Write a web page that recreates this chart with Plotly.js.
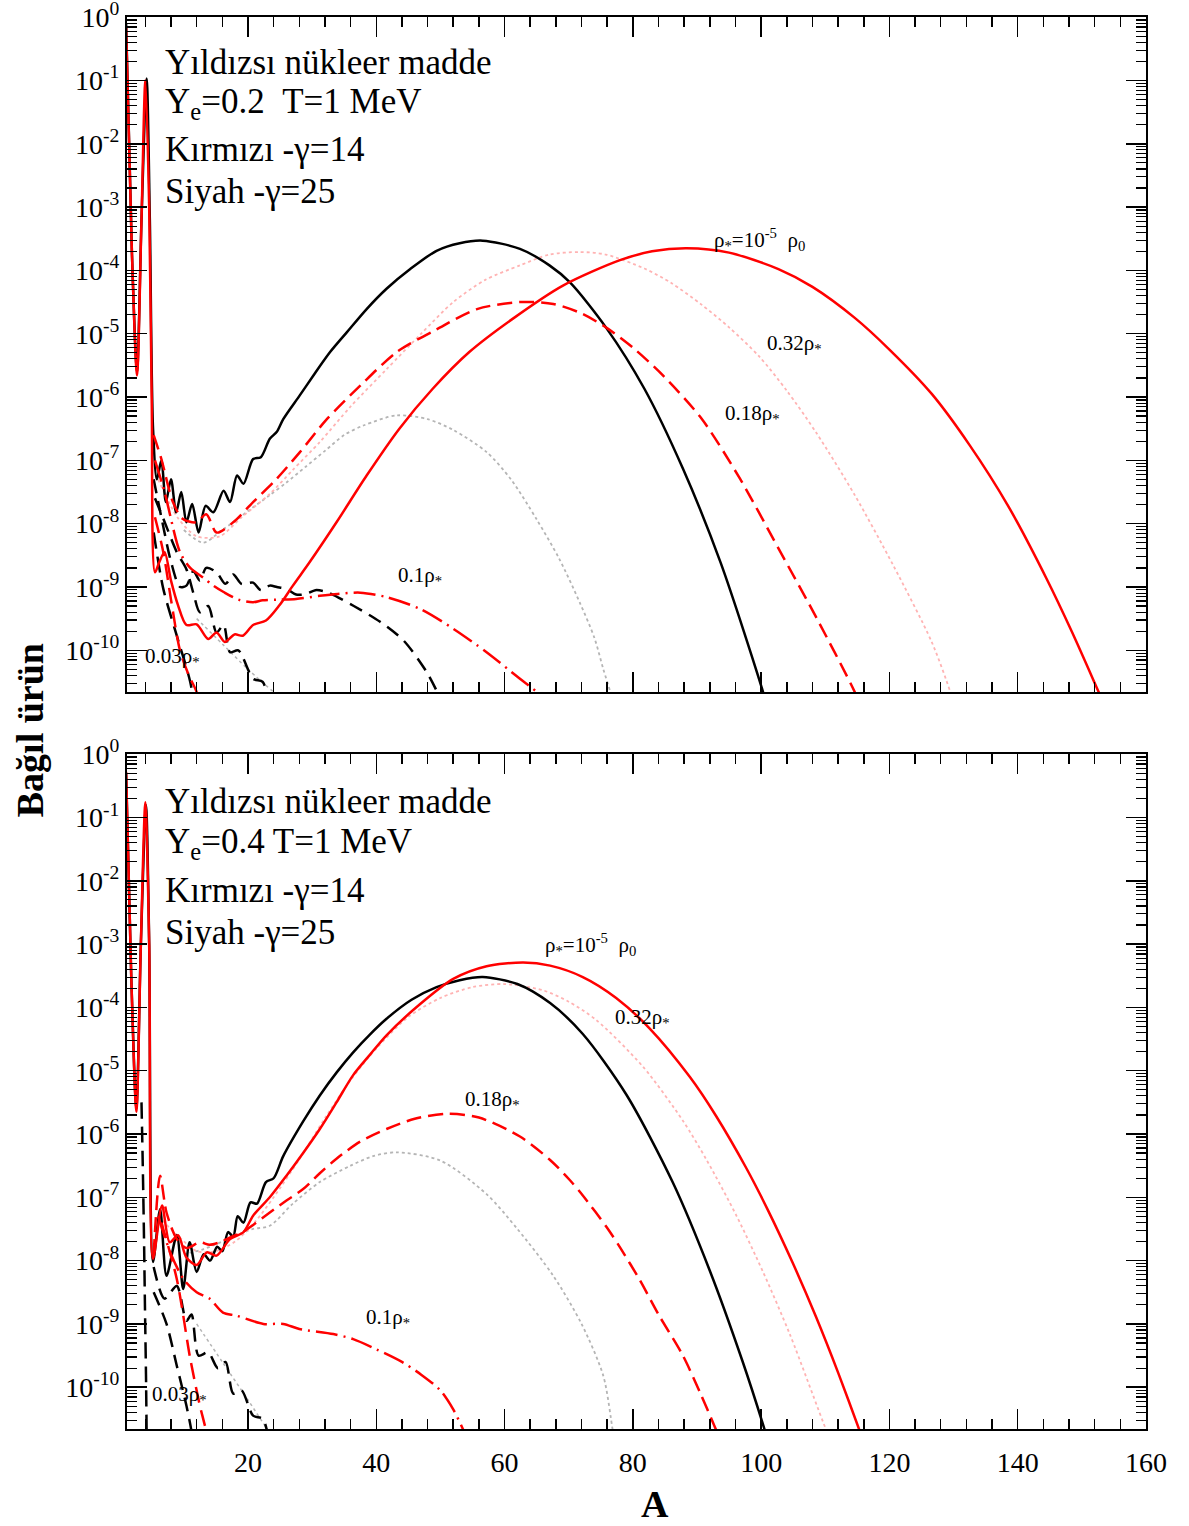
<!DOCTYPE html>
<html>
<head>
<meta charset="utf-8">
<script src="https://cdn.plot.ly/plotly-3.0.1.min.js"></script>
<style>html,body{margin:0;padding:0;background:#fff;}#chart{width:1189px;height:1526px;}</style>
</head>
<body>
<div id="chart"></div>
<script>
// ---------- DATA (A = mass number, Y = relative yield) ----------
// Top panel: Ye = 0.2, T = 1 MeV
// red = gamma 14, black = gamma 25
const top_Rsolid_A = [1,1.9,2.7,3.4,4.0,4.6,5.0,5.5,6.2,7.0,8.0,9.1,10.4,12.0,13.8,15.1,16.4,17.9,19.2,20.8,22.8,24.9,27,29.6,33.8,38.5,43.6,48.8,54.5,61.2,69.1,78,83,88.4,95,102.7,108,114.6,120,126.6,132.5,138.5,144.5,148.5,152.8,155];
const top_Rsolid_Y = [0.69,2.0e-4,2.19e-6,6.31e-4,0.1,1e-3,7.94e-7,1.70e-9,2.51e-9,3.55e-9,1.26e-9,5.13e-10,2.51e-10,2.57e-10,1.51e-10,1.91e-10,1.35e-10,1.78e-10,1.70e-10,2.51e-10,2.95e-10,5.13e-10,1.05e-9,2.45e-9,1.05e-8,5.75e-8,3.16e-7,1.35e-6,5.13e-6,1.70e-5,5.75e-5,1.45e-4,2.0e-4,2.24e-4,1.91e-4,1.05e-4,5.5e-5,1.78e-5,5.62e-6,1.12e-6,1.74e-7,1.91e-8,1.35e-9,1.91e-10,2.0e-11,6.3e-12];

const top_Rdash_A = [5.3,6.5,8.3,9.8,11.9,13.5,15.1,17.7,20.8,24.4,28.1,32.3,37.5,43.2,49.4,55.7,62.4,67.6,72,75.8,80,84.8,90.7,96.7,102.7,108.7,114.6,116];
const top_Rdash_Y = [2.51e-7,1.05e-7,2.19e-8,1.2e-8,1.05e-8,1.41e-8,7.24e-9,1.05e-8,2.19e-8,5.01e-8,1.35e-7,4.47e-7,1.51e-6,5.13e-6,1.17e-5,2.45e-5,3.16e-5,2.95e-5,2.09e-5,1.26e-5,6.03e-6,2.14e-6,4.57e-7,5.13e-8,4.07e-9,3.16e-10,2.19e-11,1e-11];

const top_Rdot_A = [6,9,12,15.6,19,23.4,27,31.2,36,41.6,47,52,57,62.4,67,71.7,75.8,81.8,86,90.7,95,99.7,104,108.7,114.6,120.6,126.6,129.5,130.5];
const top_Rdot_Y = [5.01e-8,1.26e-8,6.31e-9,6.31e-9,1.26e-8,2.95e-8,7.08e-8,1.95e-7,7.08e-7,2.75e-6,1e-5,3.16e-5,7.08e-5,1.2e-4,1.78e-4,1.95e-4,1.78e-4,1.07e-4,6.31e-5,2.88e-5,1.26e-5,4.37e-6,1.26e-6,2.63e-7,2.82e-8,2.19e-9,1.35e-10,2.19e-11,1e-11];

const top_Rdd_A = [5.5,7,9.4,11,13,14.6,16.2,18.5,20.8,22.3,25,27.5,31.2,34,37.5,41.6,46.9,52,57.2,62.4,65,66];
const top_Rdd_Y = [1e-7,3.16e-8,3.55e-9,2.0e-9,1.41e-9,1.05e-9,8.32e-10,6.31e-10,5.75e-10,6.17e-10,6.31e-10,6.46e-10,7.24e-10,7.76e-10,8.13e-10,6.92e-10,4.47e-10,2.19e-10,9.33e-11,3.55e-11,2.19e-11,1.58e-11];

const top_R003_A = [5.5,6.8,8,9.4,10.8,12,12.5];
const top_R003_Y = [1.26e-8,3.55e-9,6.31e-10,1e-10,3.98e-11,2.19e-11,1.26e-11];

const top_Bsolid_A = [1,1.9,2.7,3.4,4.2,4.7,5.2,5.8,6.5,7.2,8,8.8,9.6,10.4,11.3,12.3,13.4,14.6,16.2,17.2,18.3,19.3,20.8,22,23.4,24.5,25.5,28.1,30.2,32.8,35.4,38.5,41.6,45.3,49.4,53,56.6,62.4,67,70.2,75.8,81.8,87.8,93.7,100.3,101.5];
const top_Bsolid_Y = [0.79,2.0e-4,2.51e-6,6.31e-4,0.107,6.31e-4,3.16e-7,5.01e-8,1e-7,2.19e-8,5.01e-8,1.51e-8,3.16e-8,1.05e-8,2.04e-8,7.24e-9,1.91e-8,1.51e-8,3.31e-8,2.19e-8,5.75e-8,4.27e-8,1.05e-7,1.12e-7,2.19e-7,2.82e-7,4.47e-7,1.07e-6,2.19e-6,5.13e-6,1.05e-5,2.45e-5,5.13e-5,1.05e-4,2.04e-4,2.69e-4,2.95e-4,2.19e-4,1.2e-4,6.46e-5,1.26e-5,1.35e-6,7.41e-8,2.4e-9,2.19e-11,7.94e-12];

const top_Bdot_A = [10,13,16,20,23.4,26,29,32,35,38,43.2,48,52,57.2,61,65,68.5,71.7,74,75.4,76.5,77.5];
const top_Bdot_Y = [7.94e-9,5.01e-9,7.94e-9,1.58e-8,2.82e-8,4.47e-8,7.94e-8,1.41e-7,2.51e-7,3.55e-7,5.13e-7,4.47e-7,3.02e-7,1.35e-7,5.01e-8,1.17e-8,2.82e-9,5.75e-10,1.58e-10,5.01e-11,2.19e-11,1e-11];

const top_Bdash1_A = [5.3,6.5,8,9.4,10.4,11.5,12.5,13.5,15.1,16.5,17.7,19,20.8,22,23.4,24.5,26,27.5,29.1,30.5,32.3,36.5,40.6,44.3,47.9,49.5,50.5];
const top_Bdash1_Y = [5.01e-8,1.26e-8,2.51e-9,1e-9,1.05e-9,1.78e-9,1.26e-9,2.0e-9,1.7e-9,1.12e-9,1.58e-9,1.12e-9,1.17e-9,8.91e-10,1.05e-9,1e-9,9.33e-10,7.59e-10,7.76e-10,8.91e-10,8.32e-10,5.01e-10,2.82e-10,1.41e-10,4.47e-11,2.19e-11,1.26e-11];

const top_Bdash2_A = [5.5,6.8,8.9,10.4,11.5,12.5,13.8,15.1,16.2,17.2,18.5,20.8,22.3,23.5];
const top_Bdash2_Y = [2.51e-8,1.2e-8,3.55e-9,1.91e-9,7.94e-10,3.98e-10,5.01e-10,1.91e-10,2.51e-10,9.33e-11,1e-10,3.55e-11,3.16e-11,1e-11];

const top_Bdash3_A = [5.3,6.8,8.9,11,11.8];
const top_Bdash3_Y = [7.24e-9,9.33e-10,1.7e-10,3.16e-11,1e-11];

const top_Bfaint_A = [12,16,20,24,26];
const top_Bfaint_Y = [3.16e-10,1.26e-10,5.01e-11,2.19e-11,1.5e-11];

// Bottom panel: Ye = 0.4, T = 1 MeV
const bot_Rsolid_A = [1,1.8,2.6,3.3,4.0,4.6,5.2,6.6,7.8,9.1,10.4,12,13.6,15.1,17.2,19.3,20.8,23.4,26,28.6,31.2,33.8,36.4,39,41.6,46.8,52,57.2,62.9,67.1,72.2,77.4,82.6,88.9,93,97.7,101,104.9,108.6,112,115.4,116.5];
const bot_Rsolid_Y = [0.525,3.16e-4,2.24e-6,1e-3,0.174,1e-3,1.07e-8,7.41e-8,1.95e-8,2.51e-8,1.12e-8,8.51e-9,1.35e-8,1.2e-8,2.19e-8,2.82e-8,5.13e-8,1e-7,2.19e-7,5.01e-7,1.2e-6,3.16e-6,8.51e-6,1.78e-5,3.63e-5,1.12e-4,2.82e-4,4.47e-4,5.13e-4,4.57e-4,3.02e-4,1.41e-4,4.68e-5,7.94e-6,1.91e-6,2.88e-7,6.46e-8,9.33e-9,1.26e-9,1.7e-10,2.0e-11,1e-11];

const bot_Rdash_A = [5.3,6.3,7.3,8.9,10.4,12.5,14,15.6,17.5,19.2,21,23.4,26,28.6,31.2,33.8,37.5,41.6,46,51,56,62.4,67.1,70.2,72.2,75.9,78,81.1,84,87.8,90.5,92.8,94];
const bot_Rdash_Y = [1.26e-8,2.19e-7,5.75e-8,2.19e-8,1.58e-8,1.95e-8,1.78e-8,1.95e-8,2.4e-8,2.82e-8,3.8e-8,5.75e-8,8.91e-8,1.35e-7,2.4e-7,4.07e-7,7.59e-7,1.2e-6,1.74e-6,2.09e-6,1.82e-6,9.12e-7,3.89e-7,1.86e-7,1.07e-7,3.39e-8,1.62e-8,4.9e-9,1.41e-9,3.16e-10,8.13e-11,2.34e-11,1.2e-11];

const bot_Rdot_A = [6,9,12,15,18,21,24,28,32,36,40,45,50,55,60,66,70,74.3,81.6,87.8,91.5,96.2,100.3,104.5,110.2,111.5];
const bot_Rdot_Y = [5.01e-8,2.51e-8,1.41e-8,1.41e-8,2.0e-8,3.98e-8,1e-7,3.98e-7,1.78e-6,7.08e-6,2.24e-5,7.08e-5,1.41e-4,2.09e-4,2.34e-4,1.86e-4,1.23e-4,6.31e-5,1.15e-5,1.62e-6,3.89e-7,5.01e-8,6.61e-9,6.76e-10,2.04e-11,1e-11];

const bot_Rdd_A = [6,8,10,12,14,16.1,18.2,22.4,25.5,28,33.3,36.4,40,44,47,50,52,53.5,55];
const bot_Rdd_Y = [5.01e-8,1.26e-8,5.01e-9,3.16e-9,2.51e-9,1.51e-9,1.35e-9,1e-9,1e-9,8.32e-10,6.92e-10,5.75e-10,3.98e-10,2.51e-10,1.58e-10,8.91e-11,4.47e-11,2.19e-11,1e-11];

const bot_R003_A = [6.5,8.9,11,12.5,13.5,14];
const bot_R003_Y = [3.98e-8,5.13e-9,2.82e-10,5.13e-11,2.0e-11,1e-11];

const bot_Bsolid_A = [1,1.8,2.6,3.3,4.1,4.6,5.2,6.3,7.3,8.9,9.9,10.9,12,13.1,14.1,15.2,16.0,16.9,17.7,18.4,19.3,20.4,21.4,22.8,24,25.5,28.6,31.2,33.8,36.4,39,41.6,45.5,49.4,53,56.6,62,67.1,72.2,79,86.2,92,97.1,100.3,101.5];
const bot_Bsolid_Y = [0.5,3.16e-4,2.51e-6,1e-3,0.158,1e-3,9.55e-9,6.46e-8,5.75e-9,2.51e-8,3.55e-9,1.95e-8,6.61e-9,1.26e-8,1e-8,1.66e-8,1.41e-8,2.82e-8,2.4e-8,5.01e-8,3.98e-8,8.32e-8,7.94e-8,1.74e-7,2.0e-7,4.47e-7,1.58e-6,4.07e-6,9.33e-6,1.95e-5,3.72e-5,6.61e-5,1.32e-4,2.09e-4,2.69e-4,3.02e-4,2.34e-4,1.17e-4,3.8e-5,4.17e-6,1.74e-7,6.92e-9,2.57e-10,2.57e-11,1e-11];

const bot_Bdot_A = [10,13,16,18.2,20.8,23.4,27,31.2,36,39.5,43.2,50,57.2,62,67.6,72,75.4,76.9,77.5];
const bot_Bdot_Y = [1.26e-8,1.51e-8,2.0e-8,2.51e-8,3.16e-8,3.55e-8,7.94e-8,1.74e-7,3.16e-7,4.47e-7,5.13e-7,3.8e-7,1.12e-7,3.16e-8,5.75e-9,1e-9,1.51e-10,2.0e-11,1e-11];

const bot_Bdash1_A = [5.3,7,8.9,10.4,11.2,12.3,13.8,15.3,16.5,17.7,19,20.8,22.3,23.5];
const bot_Bdash1_Y = [7.94e-9,2.51e-9,3.98e-9,1.12e-9,1.41e-9,3.16e-10,3.55e-10,2.0e-10,2.51e-10,7.94e-11,8.91e-11,3.55e-11,3.16e-11,1e-11];

const bot_Bdash2_A = [5.3,7.3,8.9,10.4,11.2,11.6];
const bot_Bdash2_Y = [3.16e-9,1e-9,2.19e-10,5.13e-11,2.0e-11,1e-11];

const bot_Bdash3_A = [3.4,3.6,3.8,3.95,4.1,4.2,4.25];
const bot_Bdash3_Y = [3.16e-6,3.16e-7,2.0e-8,1.58e-9,1.58e-10,2.0e-11,1e-11];

const bot_Bfaint_A = [12,16,20,23,25];
const bot_Bfaint_Y = [1e-9,2.51e-10,6.31e-11,2.19e-11,1.2e-11];

// tick labels
const xTickVals = [20,40,60,80,100,120,140,160];
const xTickText = ['20','40','60','80','100','120','140','160'];
const yTickVals = [1,1e-1,1e-2,1e-3,1e-4,1e-5,1e-6,1e-7,1e-8,1e-9,1e-10];
const yTickText = ['10<sup>0</sup>','10<sup>-1</sup>','10<sup>-2</sup>','10<sup>-3</sup>','10<sup>-4</sup>','10<sup>-5</sup>','10<sup>-6</sup>','10<sup>-7</sup>','10<sup>-8</sup>','10<sup>-9</sup>','10<sup>-10</sup>'];

// panel texts
const panelTitle = 'Yıldızsı nükleer madde';
const topCond = 'Y<sub>e</sub>=0.2&nbsp;&nbsp;T=1 MeV';
const botCond = 'Y<sub>e</sub>=0.4 T=1 MeV';
const redNote = 'Kırmızı -γ=14';
const blackNote = 'Siyah -γ=25';
const lblRho = 'ρ<sub>*</sub>=10<sup>-5</sup>&nbsp;&nbsp;ρ<sub>0</sub>';
const lbl032 = '0.32ρ<sub>*</sub>';
const lbl018 = '0.18ρ<sub>*</sub>';
const lbl01 = '0.1ρ<sub>*</sub>';
const lbl003 = '0.03ρ<sub>*</sub>';

// ---------- STYLES ----------
const RED = '#ff0000', BLK = '#000000';
const FONT = 'Liberation Serif, Times New Roman, serif';
function tr(x, y, color, width, dash, ax) {
  return {x: x, y: y, type: 'scatter', mode: 'lines', xaxis: ax === 2 ? 'x2' : 'x', yaxis: ax === 2 ? 'y2' : 'y',
          line: {color: color, width: width, dash: dash, shape: 'spline', smoothing: 0.8}, hoverinfo: 'skip'};
}
const DOT_PINK = '#ffb3b3', DOT_GRAY = '#b5b5b5';
const traces = [];
function panel(p, d) {
  traces.push(tr(d.Bfaint_A, d.Bfaint_Y, DOT_GRAY, 1.5, 'dot', p));
  traces.push(tr(d.Bdot_A, d.Bdot_Y, DOT_GRAY, 1.8, 'dot', p));
  traces.push(tr(d.Rdot_A, d.Rdot_Y, DOT_PINK, 1.8, 'dot', p));
  traces.push(tr(d.Bdash3_A, d.Bdash3_Y, BLK, 2.5, '16px,8px', p));
  traces.push(tr(d.Bdash2_A, d.Bdash2_Y, BLK, 2.5, '14px,8px', p));
  traces.push(tr(d.Bdash1_A, d.Bdash1_Y, BLK, 2.5, '14px,8px', p));
  traces.push(tr(d.Bsolid_A, d.Bsolid_Y, BLK, 2.5, 'solid', p));
  traces.push(tr(d.R003_A, d.R003_Y, RED, 2.5, '16px,8px', p));
  traces.push(tr(d.Rdd_A, d.Rdd_Y, RED, 2.5, '22px,6px,2px,6px', p));
  traces.push(tr(d.Rdash_A, d.Rdash_Y, RED, 2.5, '15px,7px', p));
  traces.push(tr(d.Rsolid_A, d.Rsolid_Y, RED, 2.5, 'solid', p));
}
panel(1, {Bfaint_A: top_Bfaint_A, Bfaint_Y: top_Bfaint_Y, Bdot_A: top_Bdot_A, Bdot_Y: top_Bdot_Y, Rdot_A: top_Rdot_A, Rdot_Y: top_Rdot_Y,
  Bdash3_A: top_Bdash3_A, Bdash3_Y: top_Bdash3_Y, Bdash2_A: top_Bdash2_A, Bdash2_Y: top_Bdash2_Y, Bdash1_A: top_Bdash1_A, Bdash1_Y: top_Bdash1_Y,
  Bsolid_A: top_Bsolid_A, Bsolid_Y: top_Bsolid_Y, R003_A: top_R003_A, R003_Y: top_R003_Y, Rdd_A: top_Rdd_A, Rdd_Y: top_Rdd_Y,
  Rdash_A: top_Rdash_A, Rdash_Y: top_Rdash_Y, Rsolid_A: top_Rsolid_A, Rsolid_Y: top_Rsolid_Y});
panel(2, {Bfaint_A: bot_Bfaint_A, Bfaint_Y: bot_Bfaint_Y, Bdot_A: bot_Bdot_A, Bdot_Y: bot_Bdot_Y, Rdot_A: bot_Rdot_A, Rdot_Y: bot_Rdot_Y,
  Bdash3_A: bot_Bdash3_A, Bdash3_Y: bot_Bdash3_Y, Bdash2_A: bot_Bdash2_A, Bdash2_Y: bot_Bdash2_Y, Bdash1_A: bot_Bdash1_A, Bdash1_Y: bot_Bdash1_Y,
  Bsolid_A: bot_Bsolid_A, Bsolid_Y: bot_Bsolid_Y, R003_A: bot_R003_A, R003_Y: bot_R003_Y, Rdd_A: bot_Rdd_A, Rdd_Y: bot_Rdd_Y,
  Rdash_A: bot_Rdash_A, Rdash_Y: bot_Rdash_Y, Rsolid_A: bot_Rsolid_A, Rsolid_Y: bot_Rsolid_Y});

// minor log ticks (layout only)
const yMinor = [];
for (let e = -11; e <= -1; e++) for (let m = 2; m <= 9; m++) yMinor.push(m * Math.pow(10, e));

function xax(showLabels, anchor) {
  return {range: [1.14, 160], anchor: anchor, showline: true, linecolor: BLK, linewidth: 2, mirror: 'allticks',
    ticks: 'inside', ticklen: 20, tickwidth: 1.5, tickcolor: BLK, tickmode: 'array', tickvals: xTickVals, ticktext: xTickText,
    showticklabels: showLabels, showgrid: false, zeroline: false, ticklabelstandoff: 7,
    tickfont: {family: FONT, size: 28, color: BLK},
    minor: {tickmode: 'linear', tick0: 0, dtick: 4, ticks: 'inside', ticklen: 10, tickwidth: 1.5, tickcolor: BLK, showgrid: false}};
}
function yax(domain, anchor) {
  return {type: 'log', range: [-10.66, 0.002], domain: domain, anchor: anchor, showline: true, linecolor: BLK, linewidth: 2, mirror: 'allticks',
    ticks: 'inside', ticklen: 20, tickwidth: 1.5, tickcolor: BLK, tickmode: 'array', tickvals: yTickVals, ticktext: yTickText,
    showgrid: false, zeroline: false, tickfont: {family: FONT, size: 28, color: BLK}, ticklabeloverflow: 'allow',
    minor: {tickmode: 'array', tickvals: yMinor, ticks: 'inside', ticklen: 10, tickwidth: 1.2, tickcolor: BLK, showgrid: false}};
}

function note(text, x, y, ref, size) {
  return {text: text, x: x, y: y, xref: ref === 2 ? 'x2' : 'x', yref: ref === 2 ? 'y2' : 'y', showarrow: false,
    xanchor: 'left', yanchor: 'middle', font: {family: FONT, size: size, color: BLK}};
}
const annotations = [
  note(panelTitle, 6.8, -0.71, 1, 35), note(topCond, 6.8, -1.36, 1, 35), note(redNote, 6.8, -2.09, 1, 35), note(blackNote, 6.8, -2.75, 1, 35),
  note(panelTitle, 6.8, -0.74, 2, 35), note(botCond, 6.8, -1.41, 2, 35), note(redNote, 6.8, -2.15, 2, 35), note(blackNote, 6.8, -2.81, 2, 35),
  note(lblRho, 92.3, -3.51, 1, 21), note(lbl032, 100.6, -5.17, 1, 21), note(lbl018, 94.0, -6.27, 1, 21), note(lbl01, 43.1, -8.82, 1, 21), note(lbl003, 3.6, -10.11, 1, 21),
  note(lblRho, 66.0, -3.0, 2, 21), note(lbl032, 76.9, -4.17, 2, 21), note(lbl018, 53.5, -5.47, 2, 21), note(lbl01, 38.1, -8.91, 2, 21), note(lbl003, 4.7, -10.13, 2, 21),
  {text: '<b>Bağıl ürün</b>', x: -0.095, y: 0.495, xref: 'paper', yref: 'paper', showarrow: false, textangle: -90,
   xanchor: 'center', yanchor: 'middle', font: {family: FONT, size: 38, color: BLK}},
  {text: '<b>A</b>', x: 0.518, y: -0.053, xref: 'paper', yref: 'paper', showarrow: false,
   xanchor: 'center', yanchor: 'middle', font: {family: FONT, size: 38, color: BLK}}
];

const layout = {
  width: 1189, height: 1526, margin: {l: 127, r: 43, t: 17, b: 97},
  paper_bgcolor: '#fff', plot_bgcolor: '#fff', showlegend: false,
  font: {family: FONT, color: BLK},
  xaxis: xax(false, 'y'), yaxis: yax([0.5219, 1], 'x'),
  xaxis2: xax(true, 'y2'), yaxis2: yax([0, 0.478], 'x2'),
  annotations: annotations
};
Plotly.newPlot('chart', traces, layout, {displayModeBar: false, staticPlot: true});
</script>
</body>
</html>
